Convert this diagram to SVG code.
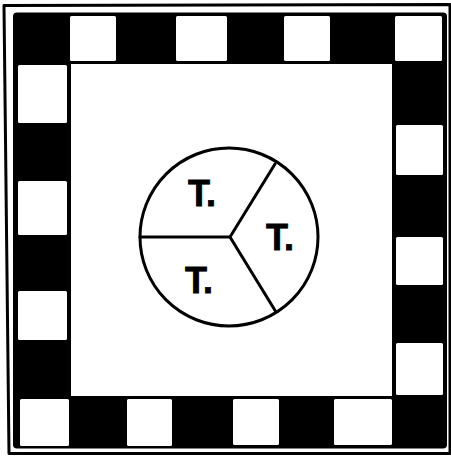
<svg xmlns="http://www.w3.org/2000/svg" width="451" height="457" viewBox="0 0 451 457">
  <style>
    .line { fill: none; stroke: #000; stroke-width: 3; stroke-linecap: round; stroke-linejoin: round; }
    .cell { fill: #fff; }
    .lbl { font-family: "Liberation Sans", Arial, sans-serif; font-weight: bold; font-size: 36px; fill: #000; stroke: #000; stroke-width: 0.8; }
  </style>
  <rect x="0" y="0" width="451" height="457" fill="#fff"/>
  <g id="outer-border">
    <path class="line" d="M450,4.5 L4,5.5 L9,453.5 L450,453.5 L450,4.5" stroke-width="2.5"/>
  </g>
  <g id="checker-frame">
    <rect x="13" y="12.5" width="434" height="436" rx="4" fill="#000"/>
    <rect x="71" y="64" width="321" height="332" fill="#fff"/>
    <!-- top row -->
    <rect class="cell" x="70" y="16" width="46" height="45" rx="1.5"/>
    <rect class="cell" x="176" y="16" width="51" height="45" rx="1.5"/>
    <rect class="cell" x="284" y="16" width="46" height="45" rx="1.5"/>
    <rect class="cell" x="395" y="16" width="47" height="45" rx="1.5"/>
    <!-- right column -->
    <rect class="cell" x="396" y="125" width="47" height="50" rx="1.5"/>
    <rect class="cell" x="396" y="237" width="47" height="48" rx="1.5"/>
    <rect class="cell" x="396" y="343" width="47" height="52" rx="1.5"/>
    <!-- bottom row -->
    <rect class="cell" x="20" y="399" width="49" height="47" rx="1.5"/>
    <rect class="cell" x="127" y="399" width="45" height="47" rx="1.5"/>
    <rect class="cell" x="233" y="399" width="46" height="46" rx="1.5"/>
    <rect class="cell" x="334" y="399" width="58" height="46" rx="1.5"/>
    <!-- left column -->
    <rect class="cell" x="18" y="65" width="49" height="58" rx="1.5"/>
    <rect class="cell" x="18" y="181" width="49" height="54" rx="1.5"/>
    <rect class="cell" x="18" y="291" width="49" height="49" rx="1.5"/>
  </g>
  <g id="circle">
    <circle class="line" cx="229" cy="237" r="89"/>
  </g>
  <g id="connectors">
    <path class="line" d="M230,237 L140,237"/>
    <path class="line" d="M230,237 L275,164"/>
    <path class="line" d="M230,237 L276,312"/>
  </g>
  <g id="sector-top-left">
    <text class="lbl" x="188" y="206">T.</text>
  </g>
  <g id="sector-right">
    <text class="lbl" x="266" y="250">T.</text>
  </g>
  <g id="sector-bottom-left">
    <text class="lbl" x="185" y="293">T.</text>
  </g>
</svg>
